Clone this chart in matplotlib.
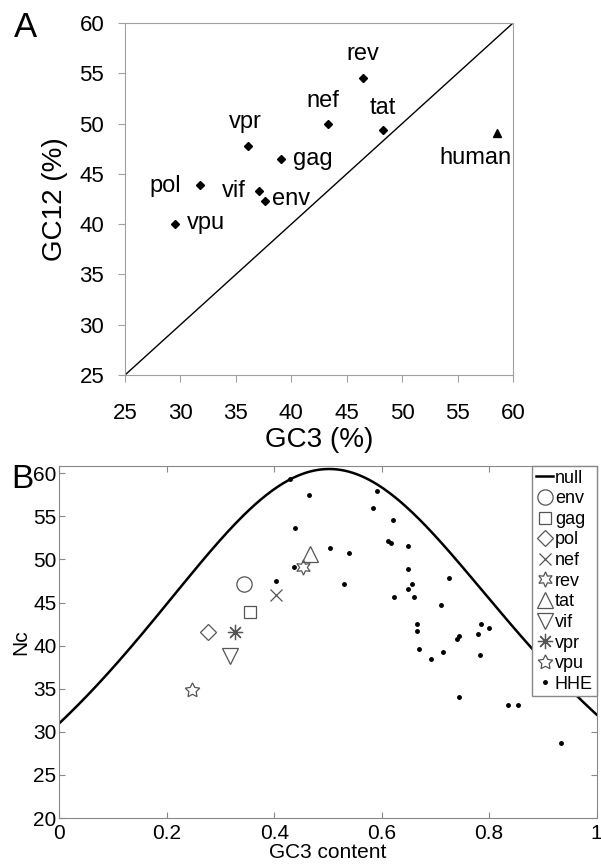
import numpy as np
import matplotlib
matplotlib.use('Agg')
import matplotlib.pyplot as plt

plt.rcParams['font.family'] = ['Liberation Sans', 'DejaVu Sans']

# ---- panel A data: GC3 vs GC12 per HIV gene ----
genes_a = ['rev', 'nef', 'tat', 'vpr', 'gag', 'pol', 'vif', 'env', 'vpu']
gc3_a = [46.5, 43.3, 48.3, 36.1, 39.1, 31.8, 37.1, 37.6, 29.5]
gc12_a = [54.5, 50.0, 49.4, 47.8, 46.5, 43.9, 43.3, 42.3, 40.0]
human_gc3 = 58.6
human_gc12 = 49.1
# label offsets in pixels (dx, dy, ha)
label_off = {'rev': (-1, 18, 'center'), 'nef': (-5, 17, 'center'),
             'tat': (0, 16, 'center'), 'vpr': (-3, 18, 'center'),
             'gag': (12, -6, 'left'), 'pol': (-19, -7, 'right'),
             'vif': (-13, -6, 'right'), 'env': (7, -4, 'left'),
             'vpu': (12, -5, 'left')}

# ---- panel B data: effective number of codons ----
genes_b = ['env', 'gag', 'pol', 'nef', 'rev', 'tat', 'vif', 'vpr', 'vpu']
gc3_b = [0.344, 0.354, 0.277, 0.403, 0.453, 0.467, 0.317, 0.327, 0.246]
nc_b = [47.2, 43.9, 41.6, 45.9, 49.1, 50.6, 38.8, 41.6, 34.8]
markers_b = ['o', 's', 'D', 'x', (6, 1, 0), '^', 'v', (8, 2, 0), (5, 1, 0)]
msizes_b = [11, 9, 8, 9, 11, 11, 11, 11, 11]

hhe_gc3 = [0.429, 0.464, 0.439, 0.504, 0.540, 0.437, 0.403, 0.530, 0.592,
           0.583, 0.621, 0.611, 0.618, 0.648, 0.648, 0.657, 0.648, 0.661,
           0.622, 0.726, 0.711, 0.666, 0.666, 0.669, 0.692, 0.715, 0.740,
           0.744, 0.780, 0.785, 0.800, 0.783, 0.743, 0.836, 0.854, 0.934]
hhe_nc = [59.3, 57.5, 53.7, 51.3, 50.8, 49.1, 47.5, 47.2, 57.9,
          56.0, 54.6, 52.1, 51.9, 51.6, 48.9, 47.1, 46.6, 45.6,
          45.6, 47.8, 44.7, 42.5, 41.7, 39.6, 38.5, 39.3, 40.8,
          41.1, 41.3, 42.5, 42.1, 38.9, 34.1, 33.1, 33.1, 28.7]

fig = plt.figure(figsize=(6.01, 8.64), dpi=100)
W, H = 601.0, 864.0

# ---------------- panel A ----------------
axA = fig.add_axes([125 / W, 1 - 375 / H, 388 / W, 352 / H])
axA.plot([25, 60], [25, 60], color='k', lw=1)
axA.plot(gc3_a, gc12_a, 'D', color='k', markersize=4)
axA.plot([human_gc3], [human_gc12], '^', color='k', markersize=6)
for g, x, y in zip(genes_a, gc3_a, gc12_a):
    dx, dy, ha = label_off[g]
    axA.annotate(g, (x, y), xytext=(dx, dy), textcoords='offset pixels',
                 ha=ha, va='baseline', fontsize=17)
axA.annotate('human', (human_gc3, human_gc12), xytext=(-22, -31),
             textcoords='offset pixels', ha='center', va='baseline', fontsize=17)
axA.set_xlim(25, 60)
axA.set_ylim(25, 60)
axA.set_xticks(np.arange(25, 61, 5))
axA.set_yticks(np.arange(25, 61, 5))
for s in axA.spines.values():
    s.set_color('#a0a0a0')
axA.tick_params(direction='out', length=5, color='#a0a0a0', labelsize=16)
axA.tick_params(axis='x', pad=15)
axA.tick_params(axis='y', pad=10)
axA.set_xlabel('GC3 (%)', fontsize=20, labelpad=2)
axA.set_ylabel('GC12 (%)', fontsize=20, labelpad=8)
fig.text(14 / W, 1 - 37 / H, 'A', fontsize=25, ha='left', va='baseline')

# ---------------- panel B ----------------
axB = fig.add_axes([59.4 / W, 1 - 818 / H, 537.2 / W, 352 / H])
s = np.linspace(0, 1, 400)
# Wright's expected Nc under GC3 mutational bias only
axB.plot(s, 2 + s + 29 / (s ** 2 + (1 - s) ** 2), color='k', lw=1.8, label='null')
for g, x, y, m, ms in zip(genes_b, gc3_b, nc_b, markers_b, msizes_b):
    axB.plot([x], [y], linestyle='none', marker=m, markersize=ms,
             markerfacecolor='none', markeredgecolor='#555555',
             markeredgewidth=0.9, label=g)
axB.plot(hhe_gc3, hhe_nc, '.', color='k', markersize=5, label='HHE')
axB.set_xlim(0, 1)
axB.set_ylim(20, 60.85)
axB.set_xticks([0, 0.2, 0.4, 0.6, 0.8, 1])
axB.set_xticklabels(['0', '0.2', '0.4', '0.6', '0.8', '1'])
axB.set_yticks(np.arange(20, 61, 5))
for sp in axB.spines.values():
    sp.set_color('#888888')
axB.tick_params(direction='in', length=4, color='#888888', labelsize=15,
                top=True, right=True)
axB.tick_params(axis='x', pad=4)
axB.tick_params(axis='y', pad=2)
axB.set_xlabel('GC3 content', fontsize=15, labelpad=0)
axB.set_ylabel('Nc', fontsize=15, labelpad=2)
leg = axB.legend(loc='upper right', bbox_to_anchor=(1, 1), borderaxespad=0,
                 fontsize=13, fancybox=False, handlelength=0.95,
                 handletextpad=0.1, labelspacing=0.2, borderpad=0.2,
                 framealpha=1)
leg.get_frame().set_edgecolor('#888888')
leg.get_frame().set_linewidth(1)
fig.text(11 / W, 1 - 488 / H, 'B', fontsize=24, ha='left', va='baseline')

fig.savefig('out.png', dpi=100)
